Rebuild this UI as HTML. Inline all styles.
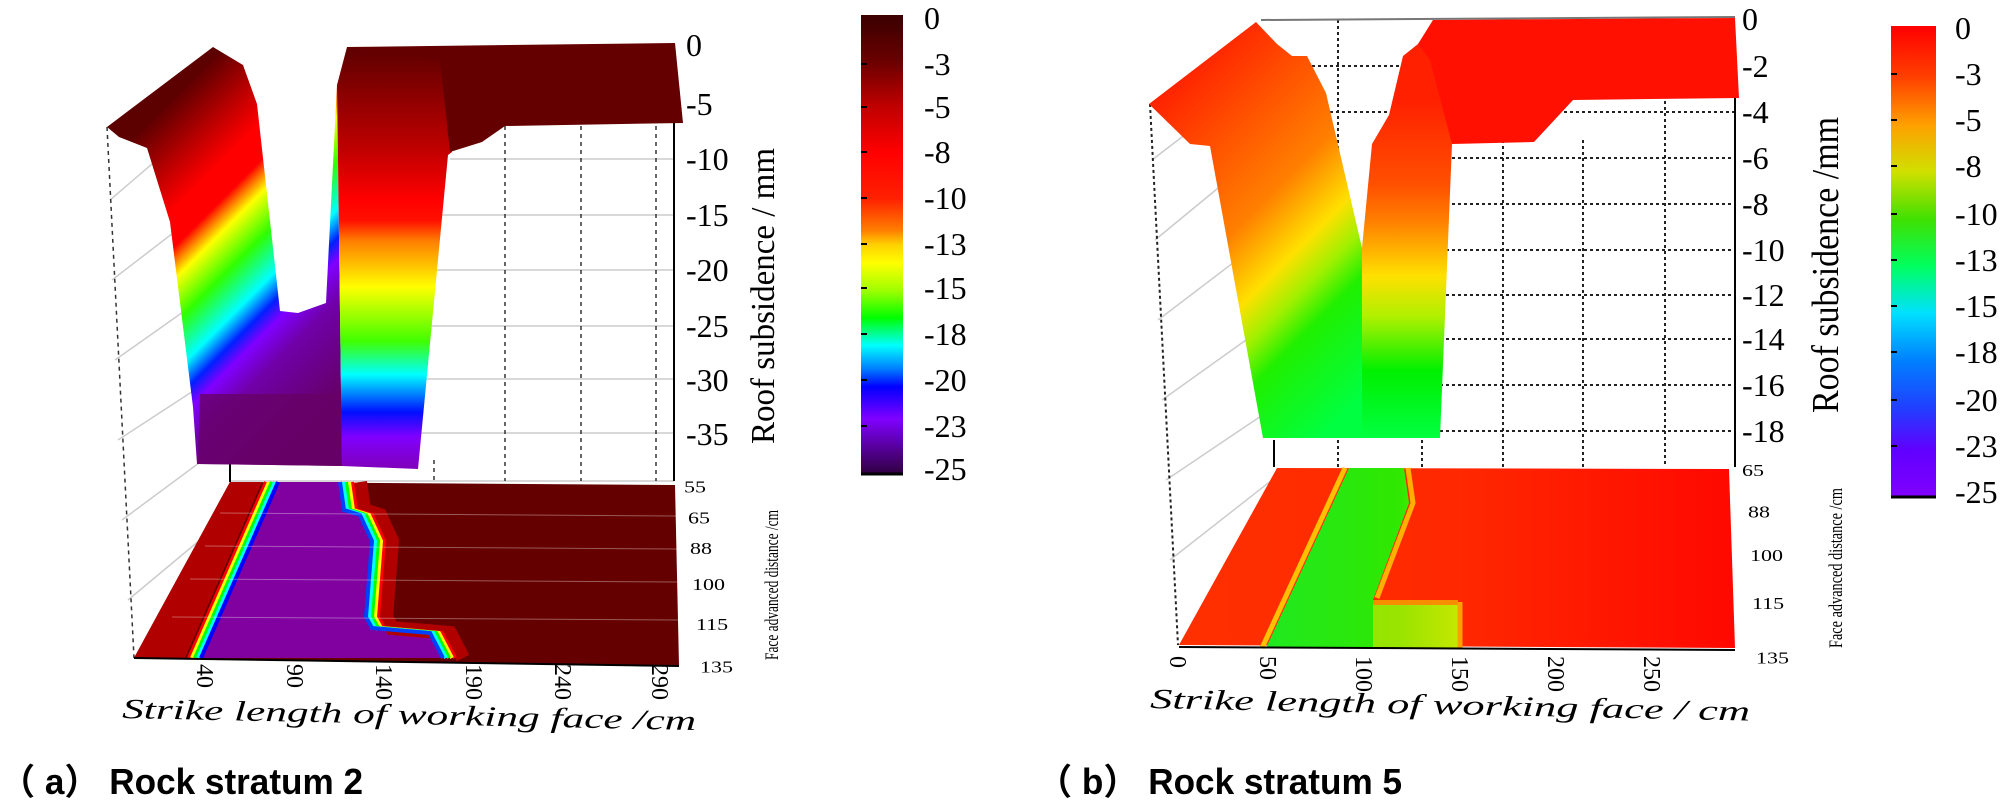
<!DOCTYPE html>
<html><head><meta charset="utf-8"><style>
html,body{margin:0;padding:0;background:#fff}
svg{display:block}
text{font-family:"Liberation Serif",serif;fill:#000}
.cap{font-family:"Liberation Sans","Noto Sans CJK SC",sans-serif;font-weight:bold}
</style></head><body>
<svg width="2008" height="800" viewBox="0 0 2008 800" xmlns="http://www.w3.org/2000/svg">
<defs>
<linearGradient id="gL" gradientUnits="userSpaceOnUse" x1="92" y1="178" x2="325" y2="411">
<stop offset="0" stop-color="#5c0000"/><stop offset=".242" stop-color="#ff0000"/><stop offset=".324" stop-color="#ff0000"/>
<stop offset=".358" stop-color="#ff8000"/><stop offset=".394" stop-color="#ffff00"/><stop offset=".491" stop-color="#30ff00"/>
<stop offset=".594" stop-color="#00ffff"/><stop offset=".655" stop-color="#0020ff"/><stop offset=".703" stop-color="#8000ff"/>
<stop offset=".788" stop-color="#7000a8"/><stop offset="1" stop-color="#650065"/></linearGradient>
<linearGradient id="gR" gradientUnits="userSpaceOnUse" x1="0" y1="50" x2="0" y2="466">
<stop offset="0" stop-color="#600000"/><stop offset=".24" stop-color="#c00000"/><stop offset=".36" stop-color="#ff0000"/>
<stop offset=".41" stop-color="#ff1000"/><stop offset=".46" stop-color="#ff8000"/><stop offset=".57" stop-color="#ffff00"/>
<stop offset=".70" stop-color="#40ff00"/><stop offset=".78" stop-color="#00ffff"/><stop offset=".87" stop-color="#0010ff"/>
<stop offset=".93" stop-color="#8000ff"/><stop offset="1" stop-color="#8000c0"/></linearGradient>
<linearGradient id="cb1" x1="0" y1="0" x2="0" y2="1">
<stop offset="0" stop-color="#3a0000"/><stop offset=".1" stop-color="#6a0000"/><stop offset=".2" stop-color="#c00000"/>
<stop offset=".3" stop-color="#ff0000"/><stop offset=".4" stop-color="#ff2000"/><stop offset=".47" stop-color="#ff8000"/>
<stop offset=".5" stop-color="#ffd000"/><stop offset=".54" stop-color="#ffff00"/><stop offset=".6" stop-color="#a0ff00"/>
<stop offset=".66" stop-color="#00ff00"/><stop offset=".72" stop-color="#00ffff"/><stop offset=".77" stop-color="#0080ff"/>
<stop offset=".81" stop-color="#0000ff"/><stop offset=".88" stop-color="#8000ff"/><stop offset="1" stop-color="#300040"/></linearGradient>
<linearGradient id="cb2" x1="0" y1="0" x2="0" y2="1">
<stop offset="0" stop-color="#ff0000"/><stop offset=".11" stop-color="#ff4000"/><stop offset=".21" stop-color="#ffa000"/>
<stop offset=".31" stop-color="#d0e000"/><stop offset=".41" stop-color="#40e000"/><stop offset=".51" stop-color="#00ff60"/>
<stop offset=".61" stop-color="#00e0ff"/><stop offset=".71" stop-color="#0080ff"/><stop offset=".81" stop-color="#2040ff"/>
<stop offset=".9" stop-color="#6000ff"/><stop offset="1" stop-color="#8000ff"/></linearGradient>
<linearGradient id="gL2" gradientUnits="userSpaceOnUse" x1="1095" y1="155" x2="1349" y2="409">
<stop offset="0" stop-color="#ff2000"/><stop offset=".425" stop-color="#ff8000"/><stop offset=".583" stop-color="#ffe000"/>
<stop offset=".675" stop-color="#a0f000"/><stop offset=".764" stop-color="#20f000"/><stop offset="1" stop-color="#00ff40"/></linearGradient>
<linearGradient id="gR2" gradientUnits="userSpaceOnUse" x1="0" y1="100" x2="0" y2="438">
<stop offset="0" stop-color="#ff2000"/><stop offset=".25" stop-color="#ff5000"/><stop offset=".36" stop-color="#ff8000"/>
<stop offset=".52" stop-color="#ffe000"/><stop offset=".64" stop-color="#b0f000"/><stop offset=".8" stop-color="#00f000"/>
<stop offset="1" stop-color="#00ff40"/></linearGradient>
<linearGradient id="fl2" x1="0" y1="0" x2="1" y2="0">
<stop offset="0" stop-color="#ff3000"/><stop offset=".5" stop-color="#ff2800"/><stop offset="1" stop-color="#ff0800"/></linearGradient>
<linearGradient id="grn" x1="0" y1="0" x2="1" y2="0">
<stop offset="0" stop-color="#20e820"/><stop offset=".7" stop-color="#30e800"/><stop offset="1" stop-color="#90f000"/></linearGradient>
</defs>

<!-- ===== LEFT CHART ===== -->
<g stroke="#ccc" stroke-width="1.5" fill="none">
<line x1="450" y1="159" x2="674" y2="159"/><line x1="420" y1="215" x2="674" y2="215"/>
<line x1="420" y1="270" x2="674" y2="270"/><line x1="420" y1="326" x2="674" y2="326"/>
<line x1="420" y1="379" x2="674" y2="379"/><line x1="420" y1="433" x2="674" y2="433"/>
<line x1="230" y1="481" x2="674" y2="481"/>
<line x1="110" y1="200" x2="180" y2="140"/><line x1="112" y1="280" x2="190" y2="220"/>
<line x1="115" y1="360" x2="200" y2="300"/><line x1="118" y1="440" x2="210" y2="380"/>
<line x1="122" y1="520" x2="230" y2="440"/><line x1="128" y1="600" x2="200" y2="540"/>
</g>
<g stroke="#333" stroke-width="1.5" stroke-dasharray="4,4" fill="none">
<line x1="505" y1="126" x2="505" y2="481"/><line x1="581" y1="126" x2="581" y2="481"/>
<line x1="656" y1="126" x2="656" y2="481"/><line x1="434" y1="460" x2="434" y2="481"/>
<line x1="107" y1="127" x2="134" y2="658"/>
</g>
<line x1="674" y1="122" x2="674" y2="481" stroke="#000" stroke-width="2"/>
<line x1="230" y1="462" x2="230" y2="482" stroke="#000" stroke-width="2"/>
<polygon fill="url(#gL)" points="107,127 213,47 243,65 257,104 280,311 298,313 326,303 337,85 342,466 197,464 193,407 170,222 147,148 119,137"/>
<polygon fill="#680066" opacity=".8" points="200,394 342,394 342,466 198,464"/>
<polygon fill="url(#gR)" points="337,85 347,47 452,47 452,152 448,155 418,469 342,466"/>
<polygon fill="#650000" points="347,47 675,43 683,123 505,126 482,142 450,152 440,60"/>
<!-- floor -->
<polygon fill="#640000" points="230,482 675,485 679,666 134,658"/>
<polygon fill="#8000a0" points="275,482 339,482 343,510 359,515 371,541 365,617 371,628 429,633 442,658 198,658"/>
<polygon fill="#b00000" points="230,482 262,482 185,658 134,658"/>
<g fill="none" stroke-width="4">
<polyline stroke="#ff0000" points="266,482 189,658"/><polyline stroke="#ffff00" points="269,482 192,658"/>
<polyline stroke="#00ff00" points="272,482 195,658"/><polyline stroke="#00ffff" points="275,482 198,658"/>
<polyline stroke="#0000ff" points="278,482 201,658"/>
<polyline stroke="#b00000" stroke-width="14" points="360,482 364,510 380,515 392,541 386,617 392,628 450,633 463,658"/>
<polyline stroke="#ff0000" points="352,482 356,510 372,515 384,541 378,617 384,628 442,633 455,658"/>
<polyline stroke="#ffff00" points="349,482 353,510 369,515 381,541 375,617 381,628 439,633 452,658"/>
<polyline stroke="#00ff00" points="346,482 350,510 366,515 378,541 372,617 378,628 436,633 449,658"/>
<polyline stroke="#00ffff" points="343,482 347,510 363,515 375,541 369,617 375,628 433,633 446,658"/>
<polyline stroke="#0040ff" points="340,482 344,510 360,515 372,541 366,617 372,628 430,633 443,658"/>
</g>
<g stroke="#fff" stroke-width="1" opacity=".35"><line x1="220" y1="513" x2="676" y2="516"/><line x1="205" y1="546" x2="677" y2="549"/><line x1="190" y1="579" x2="677" y2="582"/><line x1="172" y1="617" x2="678" y2="620"/></g>
<line x1="134" y1="658" x2="679" y2="666" stroke="#000" stroke-width="2"/>
<g font-size="32">
<text x="686" y="56">0</text><text x="686" y="115">-5</text><text x="686" y="170">-10</text><text x="686" y="226">-15</text>
<text x="686" y="281">-20</text><text x="686" y="337">-25</text><text x="686" y="391">-30</text><text x="686" y="445">-35</text>
</g>
<g font-size="22" transform="scale(1,0.75)">
<text x="684" y="657">55</text><text x="688" y="698">65</text><text x="690" y="739">88</text>
<text x="692" y="787">100</text><text x="696" y="840">115</text><text x="700" y="897">135</text>
</g>
<text font-size="19" transform="translate(778,660) rotate(-90)" textLength="150" lengthAdjust="spacingAndGlyphs">Face advanced distance /cm</text>
<g font-size="24">
<text transform="translate(197,664) rotate(90)">40</text><text transform="translate(287,664) rotate(90)">90</text>
<text transform="translate(376,664) rotate(90)">140</text><text transform="translate(466,664) rotate(90)">190</text>
<text transform="translate(555,664) rotate(90)">240</text><text transform="translate(652,664) rotate(90)">290</text>
</g>
<text font-size="28" font-style="italic" transform="translate(122,718) rotate(1.2)" textLength="574" lengthAdjust="spacingAndGlyphs">Strike length of working face /cm</text>
<text font-size="34" transform="translate(774,444) rotate(-90)" textLength="296" lengthAdjust="spacingAndGlyphs">Roof subsidence / mm</text>
<rect x="861" y="15" width="42" height="459" fill="url(#cb1)"/>
<line x1="861" y1="474" x2="903" y2="474" stroke="#000" stroke-width="3"/>
<g stroke="#000" stroke-width="2">
<line x1="861" y1="64" x2="867" y2="64"/><line x1="861" y1="107" x2="867" y2="107"/><line x1="861" y1="152" x2="867" y2="152"/>
<line x1="861" y1="198" x2="867" y2="198"/><line x1="861" y1="244" x2="867" y2="244"/><line x1="861" y1="288" x2="867" y2="288"/>
<line x1="861" y1="334" x2="867" y2="334"/><line x1="861" y1="380" x2="867" y2="380"/><line x1="861" y1="426" x2="867" y2="426"/>
</g>
<g font-size="32">
<text x="924" y="29">0</text><text x="924" y="75">-3</text><text x="924" y="118">-5</text><text x="924" y="163">-8</text>
<text x="924" y="209">-10</text><text x="924" y="255">-13</text><text x="924" y="299">-15</text><text x="924" y="345">-18</text>
<text x="924" y="391">-20</text><text x="924" y="437">-23</text><text x="924" y="480">-25</text>
</g>

<!-- ===== RIGHT CHART ===== -->
<g stroke="#ccc" stroke-width="1.5" fill="none">
<line x1="1152" y1="160" x2="1230" y2="100"/><line x1="1155" y1="240" x2="1240" y2="170"/>
<line x1="1158" y1="320" x2="1250" y2="250"/><line x1="1162" y1="400" x2="1260" y2="330"/>
<line x1="1166" y1="480" x2="1270" y2="410"/><line x1="1170" y1="560" x2="1272" y2="480"/>
</g>
<g stroke="#222" stroke-width="2" stroke-dasharray="3,3" fill="none">
<line x1="1300" y1="66" x2="1735" y2="66"/><line x1="1300" y1="112" x2="1735" y2="112"/>
<line x1="1440" y1="158" x2="1735" y2="158"/><line x1="1440" y1="204" x2="1735" y2="204"/>
<line x1="1440" y1="250" x2="1735" y2="250"/><line x1="1440" y1="295" x2="1735" y2="295"/>
<line x1="1440" y1="339" x2="1735" y2="339"/><line x1="1440" y1="385" x2="1735" y2="385"/>
<line x1="1440" y1="431" x2="1735" y2="431"/>
<line x1="1338" y1="20" x2="1338" y2="467"/><line x1="1422" y1="440" x2="1422" y2="467"/>
<line x1="1503" y1="140" x2="1503" y2="467"/><line x1="1583" y1="140" x2="1583" y2="467"/>
<line x1="1665" y1="95" x2="1665" y2="467"/>
<line x1="1150" y1="104" x2="1178" y2="645"/>
</g>
<line x1="1735" y1="97" x2="1735" y2="467" stroke="#000" stroke-width="2"/>
<line x1="1261" y1="20" x2="1735" y2="17" stroke="#777" stroke-width="2"/>
<line x1="1274" y1="440" x2="1274" y2="467" stroke="#000" stroke-width="2"/>
<polygon fill="url(#gL2)" points="1149,104 1256,22 1277,44 1292,56 1307,56 1326,93 1362,248 1362,438 1263,438 1210,146 1190,144"/>
<polygon fill="url(#gR2)" points="1362,248 1372,144 1389,115 1403,56 1418,44 1440,40 1452,144 1440,438 1362,438"/>
<polygon fill="#ff1000" points="1418,44 1433,20 1735,18 1739,98 1573,100 1534,142 1452,144 1430,60"/>
<!-- floor right -->
<polygon fill="url(#fl2)" points="1277,468 1729,469 1735,648 1179,645"/>
<polygon fill="url(#grn)" points="1349,468 1404,468 1409,503 1373,600 1373,605 1458,605 1458,648 1266,648"/>
<polygon fill="#f0e000" opacity=".55" points="1373,600 1458,600 1458,648 1373,648"/>
<g fill="none" stroke-width="5">
<polyline stroke="#ffc000" points="1345,468 1262,648"/>
<polyline stroke="#ffb000" points="1408,468 1413,503 1377,598"/>
<polyline stroke="#ffa000" points="1460,602 1460,648"/>
</g>
<line x1="1179" y1="647" x2="1735" y2="650" stroke="#000" stroke-width="2"/>
<g font-size="22" transform="scale(1,0.75)">
<text x="1742" y="635">65</text><text x="1748" y="690">88</text><text x="1750" y="748">100</text>
<text x="1752" y="812">115</text><text x="1756" y="885">135</text>
</g>
<text font-size="19" transform="translate(1842,648) rotate(-90)" textLength="160" lengthAdjust="spacingAndGlyphs">Face advanced distance /cm</text>
<g font-size="24">
<text transform="translate(1170,656) rotate(90)">0</text><text transform="translate(1260,656) rotate(90)">50</text>
<text transform="translate(1356,656) rotate(90)">100</text><text transform="translate(1452,656) rotate(90)">150</text>
<text transform="translate(1548,656) rotate(90)">200</text><text transform="translate(1644,656) rotate(90)">250</text>
</g>
<text font-size="28" font-style="italic" transform="translate(1150,708) rotate(1.2)" textLength="600" lengthAdjust="spacingAndGlyphs">Strike length of working face / cm</text>
<g font-size="32">
<text x="1742" y="30">0</text><text x="1742" y="77">-2</text><text x="1742" y="123">-4</text><text x="1742" y="169">-6</text>
<text x="1742" y="215">-8</text><text x="1742" y="261">-10</text><text x="1742" y="306">-12</text><text x="1742" y="350">-14</text>
<text x="1742" y="396">-16</text><text x="1742" y="442">-18</text>
</g>
<text font-size="38" transform="translate(1838,413) rotate(-90)" textLength="296" lengthAdjust="spacingAndGlyphs">Roof subsidence /mm</text>
<rect x="1891" y="26" width="45" height="471" fill="url(#cb2)"/>
<line x1="1891" y1="497" x2="1936" y2="497" stroke="#000" stroke-width="3"/>
<g stroke="#000" stroke-width="2">
<line x1="1891" y1="74" x2="1897" y2="74"/><line x1="1891" y1="120" x2="1897" y2="120"/><line x1="1891" y1="166" x2="1897" y2="166"/>
<line x1="1891" y1="214" x2="1897" y2="214"/><line x1="1891" y1="260" x2="1897" y2="260"/><line x1="1891" y1="306" x2="1897" y2="306"/>
<line x1="1891" y1="352" x2="1897" y2="352"/><line x1="1891" y1="400" x2="1897" y2="400"/><line x1="1891" y1="446" x2="1897" y2="446"/>
</g>
<g font-size="32">
<text x="1955" y="39">0</text><text x="1955" y="85">-3</text><text x="1955" y="131">-5</text><text x="1955" y="177">-8</text>
<text x="1955" y="225">-10</text><text x="1955" y="271">-13</text><text x="1955" y="317">-15</text><text x="1955" y="363">-18</text>
<text x="1955" y="411">-20</text><text x="1955" y="457">-23</text><text x="1955" y="503">-25</text>
</g>

<text class="cap" x="0" y="794" font-size="36" textLength="363" lengthAdjust="spacingAndGlyphs">（ a） Rock stratum 2</text>
<text class="cap" x="1037" y="794" font-size="36" textLength="365" lengthAdjust="spacingAndGlyphs">（ b） Rock stratum 5</text>
</svg>
</body></html>
